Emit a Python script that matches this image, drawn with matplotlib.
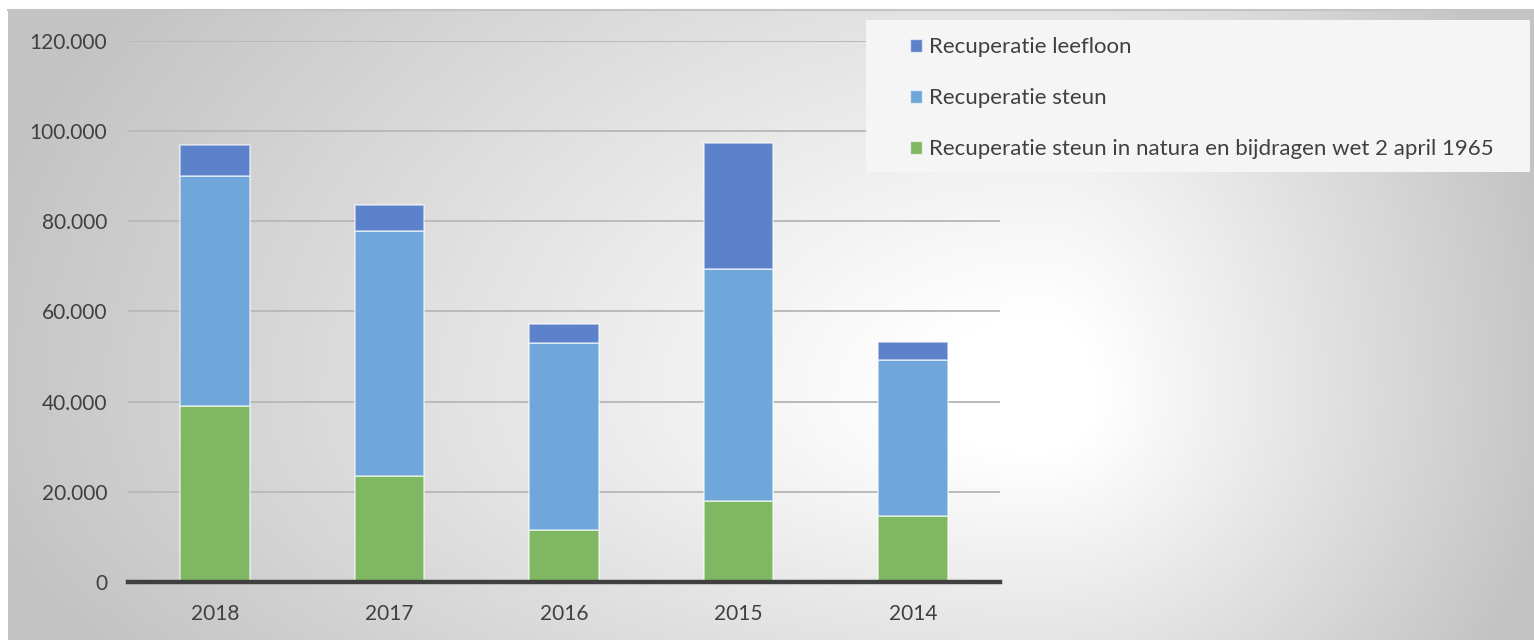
import numpy as np
import matplotlib
matplotlib.use("Agg")
import matplotlib.pyplot as plt
from matplotlib.patches import Rectangle, Patch

years = ["2018", "2017", "2016", "2015", "2014"]
natura = [39000, 23500, 11500, 18000, 14600]
steun = [51100, 54400, 41500, 51400, 34600]
leefloon = [6800, 5700, 4200, 28000, 4000]
labels = ["Recuperatie leefloon", "Recuperatie steun",
          "Recuperatie steun in natura en bijdragen wet 2 april 1965"]
yticks = [0, 20000, 40000, 60000, 80000, 100000, 120000]
ytick_labels = ["0", "20.000", "40.000", "60.000", "80.000", "100.000", "120.000"]

c_leef = "#5b82ca"
c_steun = "#6fa7da"
c_nat = "#7fb762"

W, H = 1534, 640
plt.rcParams['font.family'] = ['Lato', 'DejaVu Sans']
fig = plt.figure(figsize=(W / 100, H / 100), dpi=100)
fig.patch.set_facecolor("white")

# background gradient
bg = fig.add_axes([8 / W, 0, (W - 8) / W, (H - 10) / H])
bg.set_axis_off()
yy, xx = np.mgrid[10:H, 8:W].astype(float)
cx, cy = 1040.0, 400.0
dx = xx - cx
dy = yy - cy
sx = np.where(dx < 0, 1030.0, 490.0)
sy = np.where(dy < 0, 700.0, 450.0)
t = np.sqrt((dx / sx) ** 2 + (dy / sy) ** 2)
v = 1 - 0.22 * np.clip((t - 0.12) / 0.88, 0, 2)
v = np.clip(v, 0.765, 1)
img = np.dstack([v, v, v])
bg.imshow(img, aspect="auto", extent=[0, 1, 0, 1], interpolation="bilinear")
bg.plot([0, 1], [1, 1], color="#c4c4c4", lw=1.5, transform=bg.transAxes, clip_on=False)

ax = fig.add_axes([128 / W, (H - 582) / H, 872 / W, 541 / H])
ax.patch.set_alpha(0)
x = np.arange(len(years))
bw = 0.4
kw = dict(width=bw, edgecolor=(1, 1, 1, 0.6), linewidth=1.2, zorder=3)
ax.bar(x, natura, color=c_nat, **kw)
ax.bar(x, steun, bottom=natura, color=c_steun, **kw)
bot2 = [a + b for a, b in zip(natura, steun)]
ax.bar(x, leefloon, bottom=bot2, color=c_leef, **kw)

ax.set_xlim(-0.5, len(years) - 0.5)
ax.set_ylim(0, 120000)
ax.set_yticks(yticks)
ax.set_yticklabels(ytick_labels)
ax.set_xticks(x)
ax.set_xticklabels(years)
ax.yaxis.grid(True, color="#bababa", linewidth=1.4, zorder=1)
ax.set_axisbelow(True)
for s in ["top", "right", "left"]:
    ax.spines[s].set_visible(False)
ax.spines["bottom"].set_color("#404040")
ax.spines["bottom"].set_linewidth(3.2)
ax.spines["bottom"].set_zorder(4)
ax.tick_params(axis="both", length=0, labelsize=15, labelcolor="#404040")
ax.tick_params(axis="y", pad=15)
ax.tick_params(axis="x", pad=16)

# legend box
fig.patches.append(Rectangle((866 / W, (H - 172) / H), (1530 - 866) / W, 152 / H,
                             transform=fig.transFigure, facecolor="#f5f5f5",
                             edgecolor="none", zorder=5))
handles = [Patch(facecolor=c_leef, edgecolor=(1, 1, 1, 0.6)),
           Patch(facecolor=c_steun, edgecolor=(1, 1, 1, 0.6)),
           Patch(facecolor=c_nat, edgecolor=(1, 1, 1, 0.6))]
leg = fig.legend(handles, labels, loc="upper left",
                 bbox_to_anchor=(899 / W, (H - 26) / H), frameon=False,
                 fontsize=16, labelspacing=1.4, handlelength=0.55,
                 handleheight=0.55, handletextpad=0.3, borderpad=0,
                 labelcolor="#404040")
leg.set_zorder(6)

fig.savefig("out.png", dpi=100)
